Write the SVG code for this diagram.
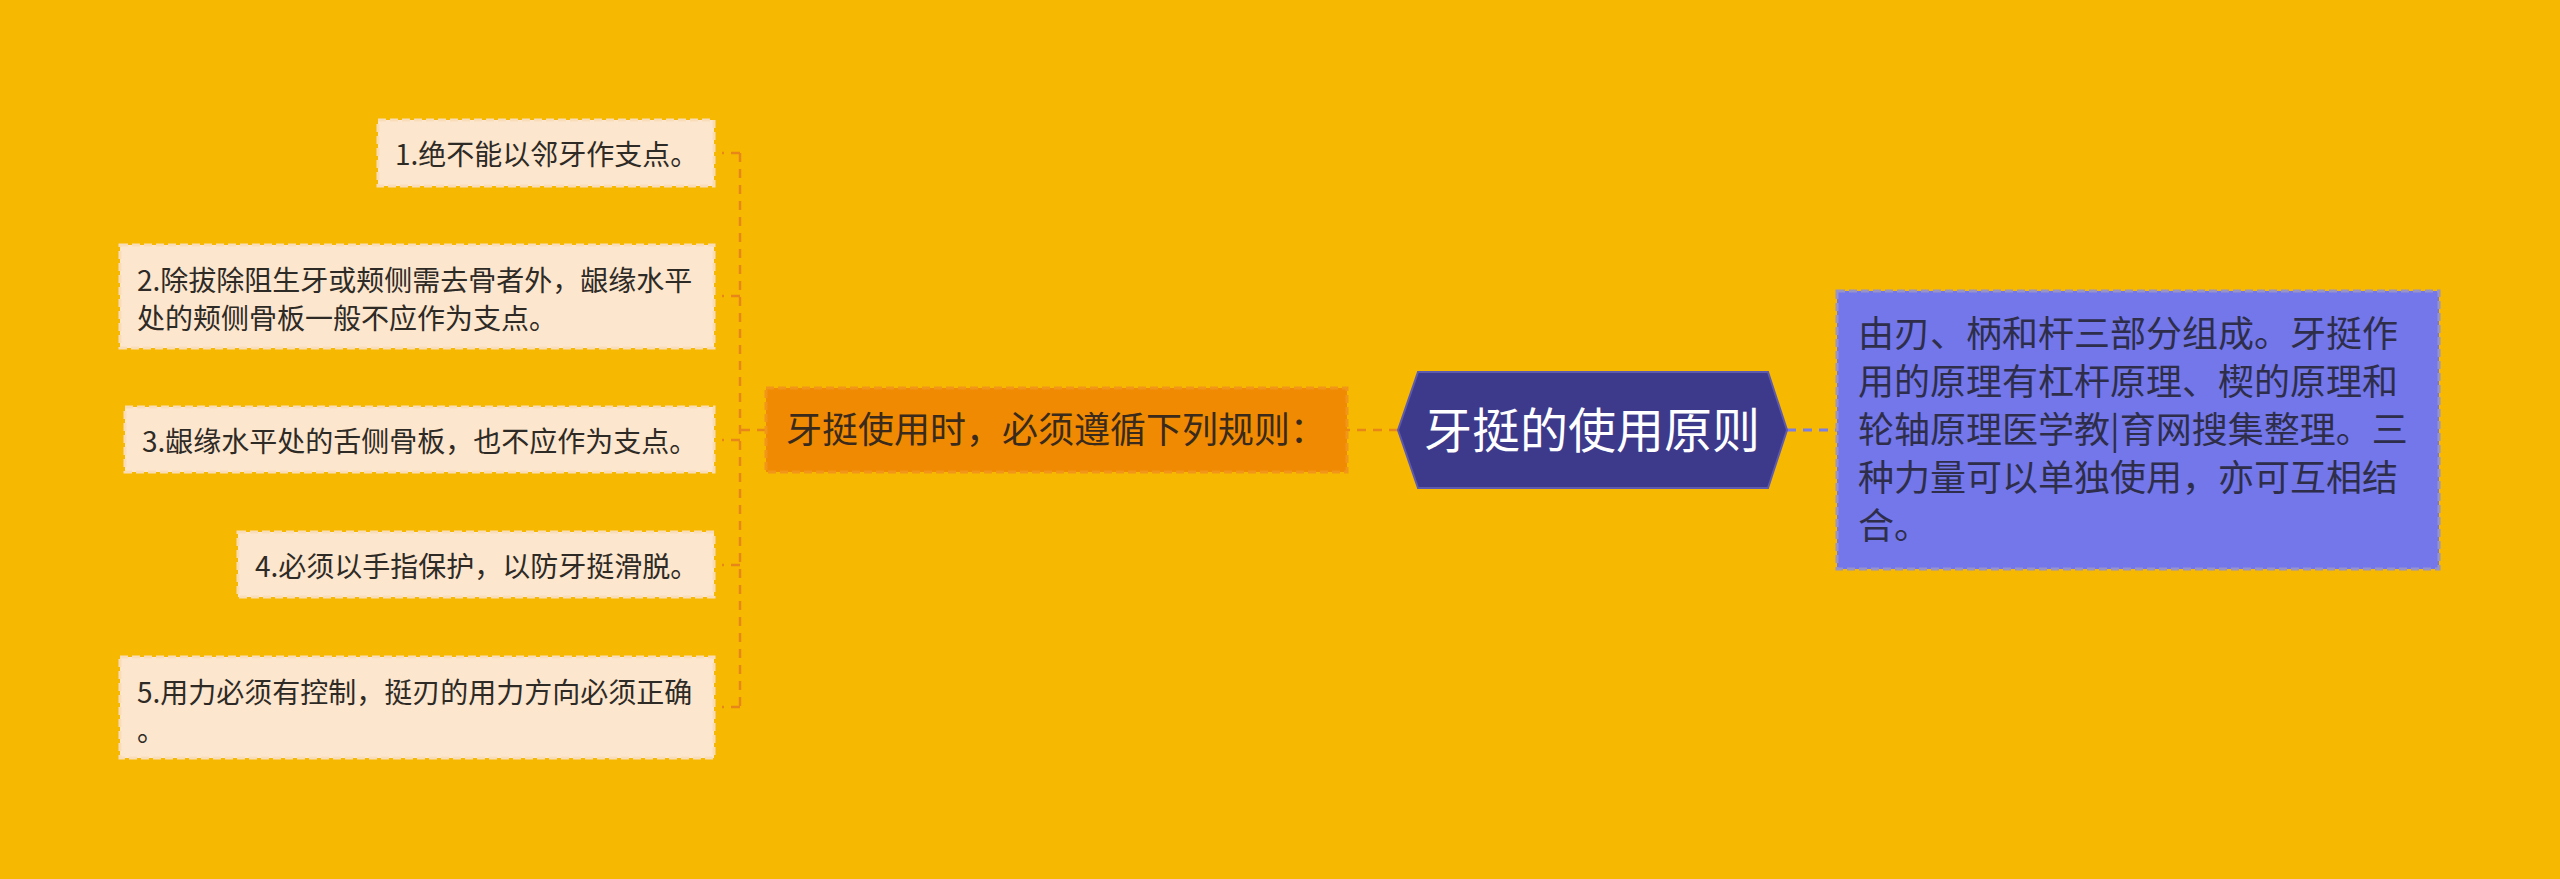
<svg xmlns="http://www.w3.org/2000/svg" width="2560" height="879" viewBox="0 0 2560 879">
<style>
.bg{fill:#F6B801}
.leaf rect{fill:#FCE6CD;stroke:#F9DDBA;stroke-width:3;stroke-dasharray:8 4}
.leaf text{font-family:"Noto Sans CJK SC","Noto Sans",sans-serif;font-size:28px;fill:#2E2A26}
.mid rect{fill:#F08A02;stroke:#F2961A;stroke-width:3;stroke-dasharray:8 4}
.mid text{font-family:"Noto Sans CJK SC","Noto Sans",sans-serif;font-size:36px;fill:#3A2A1C}
.root polygon{fill:#3D3A8C;stroke:#5E5AAE;stroke-width:2}
.root text{font-family:"Noto Sans CJK SC","Noto Sans",sans-serif;font-size:48px;fill:#FFFFFF}
.note rect{fill:#7377EA;stroke:#9A94C4;stroke-width:3;stroke-dasharray:8 4}
.note text{font-family:"Noto Sans CJK SC","Noto Sans",sans-serif;font-size:36px;fill:#2E2E4A}
.c{fill:none;stroke:#E8861A;stroke-width:2.5;stroke-dasharray:9 7}
.cb{fill:none;stroke:#7B7FE2;stroke-width:3;stroke-dasharray:9 7}
</style>
<rect class="bg" x="0" y="0" width="2560" height="879"/>
<g id="connectors">
<path class="c" d="M1398 430 H1347"/>
<path class="c" d="M766 430 H740"/>
<path class="c" d="M740 153 V707"/>
<path class="c" d="M740 153 H722"/>
<path class="c" d="M740 296 H722"/>
<path class="c" d="M740 440 H722"/>
<path class="c" d="M740 565 H722"/>
<path class="c" d="M740 707 H722"/>
<path class="cb" d="M1787 430 H1837"/>
</g>
<g id="root" class="root">
<polygon points="1398,430 1418,372 1768,372 1787,430 1768,488 1418,488"/>
<text x="1592" y="448" text-anchor="middle">牙挺的使用原则</text>
</g>
<g id="note" class="note">
<rect x="1837" y="291" width="602" height="278"/>
<text x="1858" y="347">由刃、柄和杆三部分组成。牙挺作</text>
<text x="1858" y="395">用的原理有杠杆原理、楔的原理和</text>
<text x="1858" y="443">轮轴原理医学教|育网搜集整理。三</text>
<text x="1858" y="491">种力量可以单独使用，亦可互相结</text>
<text x="1858" y="539">合。</text>
</g>
<g id="rules" class="mid">
<rect x="766" y="388" width="581" height="84"/>
<text x="786" y="443">牙挺使用时，必须遵循下列规则：</text>
</g>
<g id="leaf1" class="leaf">
<rect x="378" y="120" width="336" height="66"/>
<text x="395" y="165">1.绝不能以邻牙作支点。</text>
</g>
<g id="leaf2" class="leaf">
<rect x="120" y="245" width="594" height="103"/>
<text x="137" y="291">2.除拔除阻生牙或颊侧需去骨者外，龈缘水平</text>
<text x="137" y="329">处的颊侧骨板一般不应作为支点。</text>
</g>
<g id="leaf3" class="leaf">
<rect x="125" y="407" width="589" height="65"/>
<text x="142" y="452">3.龈缘水平处的舌侧骨板，也不应作为支点。</text>
</g>
<g id="leaf4" class="leaf">
<rect x="238" y="532" width="476" height="65"/>
<text x="255" y="577">4.必须以手指保护，以防牙挺滑脱。</text>
</g>
<g id="leaf5" class="leaf">
<rect x="120" y="657" width="594" height="101"/>
<text x="137" y="703">5.用力必须有控制，挺刃的用力方向必须正确</text>
<text x="137" y="741">。</text>
</g>
</svg>
